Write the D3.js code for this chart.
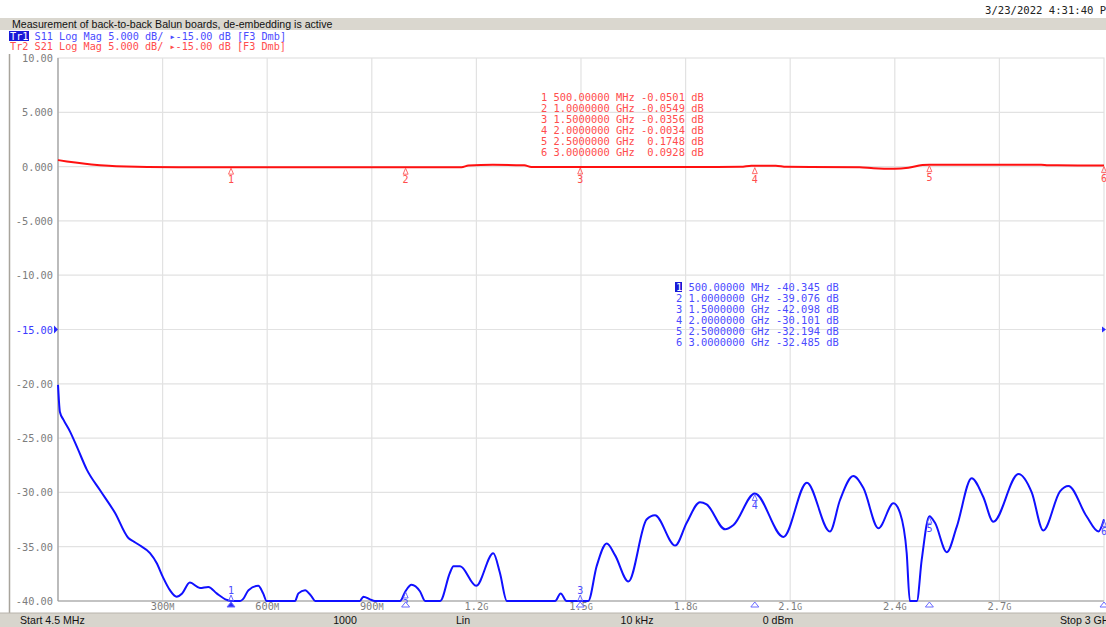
<!DOCTYPE html>
<html>
<head>
<meta charset="utf-8">
<script src="https://cdn.jsdelivr.net/npm/d3@7"></script>
<style>
  html, body { margin: 0; padding: 0; background: #fff; }
  svg { display: block; }
  text { white-space: pre; }
</style>
</head>
<body>
<div id="chart"></div>
<script>
// S11 trace (frequency in MHz, value in dB)
const s11Freq = [4.5, 7, 10, 20, 39, 60, 87, 125, 168, 206, 220, 235, 268, 287, 305, 325, 344, 360, 382, 411, 435, 459, 488, 500, 526, 535, 550, 578, 592, 602, 640, 683, 693, 712, 731, 741, 784, 826, 869, 879, 898, 912, 955, 984, 1000, 1017, 1041, 1056, 1076, 1099, 1127, 1137, 1156, 1202, 1251, 1270, 1290, 1328, 1385, 1428, 1444, 1461, 1500, 1523, 1547, 1576, 1600, 1638, 1690, 1714, 1772, 1805, 1843, 1862, 1915, 1939, 2000, 2082, 2149, 2215, 2244, 2282, 2311, 2354, 2397, 2416, 2435, 2444, 2453, 2464, 2478, 2500, 2516, 2550, 2578, 2621, 2654, 2683, 2755, 2793, 2826, 2874, 2898, 2950, 2984, 3000];
const s11Db = [-20.1, -21.5, -22.6, -23.3, -24.4, -25.9, -27.9, -29.8, -31.9, -34.2, -34.5, -34.8, -35.6, -36.5, -37.8, -39.0, -39.6, -39.3, -38.3, -38.8, -38.7, -39.3, -39.9, -40.345, -40.5, -39.8, -39.0, -38.6, -39.3, -40.2, -41, -40.5, -39.3, -39.0, -39.6, -40.2, -41.5, -42, -40.5, -39.6, -39.85, -40.3, -41, -40.3, -39.076, -38.5, -39.1, -40.2, -41, -40.3, -37.4, -36.8, -36.8, -38.6, -35.6, -37.4, -40.2, -41.5, -41.5, -40.3, -39.3, -40.2, -42.098, -40.3, -36.8, -34.7, -35.8, -38.2, -32.5, -32.1, -34.9, -32.8, -30.9, -31.1, -33.4, -33.0, -30.101, -34.1, -29.1, -33.6, -30.7, -28.5, -29.6, -33.3, -31.0, -31.9, -35.6, -40.5, -43, -40.5, -36.2, -32.194, -32.8, -35.5, -33.2, -28.7, -30.4, -32.7, -28.3, -30.0, -33.5, -29.9, -29.4, -32.2, -33.6, -32.485];

// S21 trace
const s21Freq = [4.5, 30, 60, 100, 150, 200, 260, 350, 500, 800, 1000, 1160, 1180, 1250, 1340, 1360, 1500, 1700, 1960, 1990, 2060, 2090, 2300, 2340, 2400, 2440, 2480, 2500, 2700, 2820, 2840, 2990, 3000];
const s21Db = [0.6, 0.48, 0.35, 0.2, 0.07, 0.0, -0.04, -0.05, -0.0501, -0.05, -0.0549, -0.05, 0.1, 0.16, 0.12, -0.03, -0.0356, -0.04, -0.02, 0.08, 0.08, -0.02, -0.05, -0.15, -0.2, -0.1, 0.15, 0.1748, 0.18, 0.17, 0.12, 0.1, 0.0928];

// markers
const markerFreq = [500, 1000, 1500, 2000, 2500, 3000];
const markerFreqText = ["500.00000 MHz", "1.0000000 GHz", "1.5000000 GHz", "2.0000000 GHz", "2.5000000 GHz", "3.0000000 GHz"];
const s21Marker = [-0.0501, -0.0549, -0.0356, -0.0034, 0.1748, 0.0928];
const s11Marker = [-40.345, -39.076, -42.098, -30.101, -32.194, -32.485];

// axes
const yTicks = [10, 5, 0, -5, -10, -15, -20, -25, -30, -35, -40];
const yTickLabels = ["10.00", "5.000", "0.000", "-5.000", "-10.00", "-15.00", "-20.00", "-25.00", "-30.00", "-35.00", "-40.00"];
const xTickNum = ["300", "600", "900", "1.2", "1.5", "1.8", "2.1", "2.4", "2.7"];
const xTickUnit = ["M", "M", "M", "G", "G", "G", "G", "G", "G"];
const startMHz = 4.5, stopMHz = 3000, refLevel = -15;

const statusTexts = ["Start 4.5 MHz", "1000", "Lin", "10 kHz", "0 dBm", "Stop 3 GHz"];

const W = 1106, H = 627;
const plot = { left: 58, right: 1104, top: 58, bottom: 601 };
const mono = "'DejaVu Sans Mono', 'Liberation Mono', monospace";
const sans = "'Liberation Sans', Arial, sans-serif";
const BLUE = "#1010ff", RED = "#ff1010";
const BLUE_TXT = "#4b4bff", RED_TXT = "#ff4d4d";

const svg = d3.select("#chart").append("svg")
  .attr("width", W).attr("height", H)
  .attr("viewBox", `0 0 ${W} ${H}`);

const x = d3.scaleLinear().domain([startMHz, stopMHz]).range([plot.left, plot.right]);
const y = d3.scaleLinear().domain([-40, 10]).range([plot.bottom, plot.top]).clamp(true);

// top window bar
svg.append("rect").attr("x", 0).attr("y", 18).attr("width", W).attr("height", 12).attr("fill", "#dad7cf");
svg.append("text").attr("x", 12).attr("y", 27.5)
  .attr("font-family", sans).attr("font-size", 10.6).attr("fill", "#111")
  .text("Measurement of back-to-back Balun boards, de-embedding is active");
svg.append("text").attr("x", 985).attr("y", 14)
  .attr("font-family", mono).attr("font-size", 10.6).attr("fill", "#222")
  .text("3/23/2022 4:31:40 PM");

// left frame line
svg.append("line").attr("x1", 9.5).attr("x2", 9.5).attr("y1", 54).attr("y2", 613)
  .attr("stroke", "#a8a49c").attr("stroke-width", 1.5);

// trace header lines
svg.append("rect").attr("x", 9).attr("y", 31).attr("width", 20).attr("height", 10).attr("fill", "#1a1ad8");
const tr1 = svg.append("text").attr("x", 10).attr("y", 39.5)
  .attr("font-family", mono).attr("font-size", 10.2);
tr1.append("tspan").attr("fill", "#fff").text("Tr1");
tr1.append("tspan").attr("fill", BLUE_TXT).text(" S11 Log Mag 5.000 dB/ \u25B8-15.00 dB [F3 Dmb]");
svg.append("text").attr("x", 10).attr("y", 49.5)
  .attr("font-family", mono).attr("font-size", 10.2).attr("fill", RED_TXT)
  .text("Tr2 S21 Log Mag 5.000 dB/ \u25B8-15.00 dB [F3 Dmb]");

// grid
const divs = d3.range(0, 11).map(i => startMHz + i * (stopMHz - startMHz) / 10);
svg.append("g").selectAll("line").data(divs.slice(1, 10)).join("line")
  .attr("x1", d => x(d)).attr("x2", d => x(d))
  .attr("y1", plot.top).attr("y2", plot.bottom)
  .attr("stroke", "#e2e2e2").attr("stroke-width", 1.2);
svg.append("g").selectAll("line").data(yTicks.slice(1, 10)).join("line")
  .attr("x1", plot.left).attr("x2", plot.right)
  .attr("y1", d => y(d)).attr("y2", d => y(d))
  .attr("stroke", "#e2e2e2").attr("stroke-width", 1.2);
svg.append("rect")
  .attr("x", plot.left).attr("y", plot.top)
  .attr("width", plot.right - plot.left).attr("height", plot.bottom - plot.top)
  .attr("fill", "none").attr("stroke", "#e2e2e2").attr("stroke-width", 1.2);
svg.append("line").attr("x1", plot.left).attr("x2", plot.left).attr("y1", plot.top).attr("y2", plot.bottom)
  .attr("stroke", "#9a9a9a").attr("stroke-width", 1.2);
svg.append("line").attr("x1", plot.left).attr("x2", plot.right).attr("y1", plot.bottom).attr("y2", plot.bottom)
  .attr("stroke", "#9a9a9a").attr("stroke-width", 1.2);

// y labels
svg.append("g").selectAll("text").data(yTicks).join("text")
  .attr("x", 53).attr("y", d => y(d) + 4)
  .attr("text-anchor", "end")
  .attr("font-family", mono).attr("font-size", 10.3)
  .attr("fill", d => d === refLevel ? "#3a3aff" : "#7d7d7d")
  .text((d, i) => yTickLabels[i]);

// reference level arrows
svg.append("path")
  .attr("d", `M${plot.left - 4},${y(refLevel) - 4} L${plot.left},${y(refLevel)} L${plot.left - 4},${y(refLevel) + 4} Z`)
  .attr("fill", "#2a2aff");
svg.append("path")
  .attr("d", `M${plot.right - 2},${y(refLevel) - 3} L${plot.right + 2},${y(refLevel)} L${plot.right - 2},${y(refLevel) + 3} Z`)
  .attr("fill", "#2a2aff");

// x labels
const xl = svg.append("g").selectAll("text").data(divs.slice(1, 10)).join("text")
  .attr("x", d => x(d)).attr("y", 610)
  .attr("text-anchor", "middle")
  .attr("font-family", mono).attr("font-size", 10.3).attr("fill", "#7d7d7d");
xl.append("tspan").text((d, i) => xTickNum[i]);
xl.append("tspan").attr("font-size", 8.5).text((d, i) => xTickUnit[i]);

// traces
const line = d3.line().x(d => x(d[0])).y(d => y(d[1])).curve(d3.curveMonotoneX);
svg.append("path").datum(s21Freq.map((f, i) => [f, s21Db[i]]))
  .attr("d", line).attr("fill", "none").attr("stroke", RED).attr("stroke-width", 2);
svg.append("path").datum(s11Freq.map((f, i) => [f, s11Db[i]]))
  .attr("d", line).attr("fill", "none").attr("stroke", BLUE).attr("stroke-width", 2);

// marker symbols
function markerGlyph(g, mx, my, color, filled) {
  g.append("path")
    .attr("d", `M${mx},${my} L${mx - 2.5},${my + 6} L${mx + 2.5},${my + 6} Z`)
    .attr("fill", filled ? color : "none").attr("stroke", color).attr("stroke-width", 0.9);
}
const mg = svg.append("g");
markerFreq.forEach((f, i) => {
  const mx = x(f), my = y(s21Marker[i]);
  markerGlyph(mg, mx, my + 1, "#ff5a5a", false);
  mg.append("text").attr("x", mx).attr("y", my + 16).attr("text-anchor", "middle")
    .attr("font-family", mono).attr("font-size", 10).attr("fill", RED_TXT).text(i + 1);
});
markerFreq.forEach((f, i) => {
  const mx = x(f), v = s11Marker[i];
  if (v < -40) {
    mg.append("text").attr("x", mx).attr("y", plot.bottom - 7).attr("text-anchor", "middle")
      .attr("font-family", mono).attr("font-size", 10).attr("fill", BLUE_TXT).text(i + 1);
    markerGlyph(mg, mx, plot.bottom - 6, "#5a5aff", false);
  } else {
    const my = y(v);
    markerGlyph(mg, mx, my + 1, "#5a5aff", false);
    mg.append("text").attr("x", mx).attr("y", my + 16).attr("text-anchor", "middle")
      .attr("font-family", mono).attr("font-size", 10).attr("fill", BLUE_TXT).text(i + 1);
  }
  // stimulus triangle under the axis
  mg.append("path")
    .attr("d", `M${mx},${plot.bottom + 1} L${mx - 4},${plot.bottom + 6} L${mx + 4},${plot.bottom + 6} Z`)
    .attr("fill", i === 0 ? "#2a2aff" : "#fff").attr("stroke", "#6a6aff").attr("stroke-width", 1);
});

// marker tables
const fmtS21 = v => (v < 0 ? "" : " ") + v.toFixed(4);
const fmtS11 = v => v.toFixed(3);
svg.append("g").selectAll("text").data(markerFreq).join("text")
  .attr("x", 541).attr("y", (d, i) => 101 + i * 10.9)
  .attr("font-family", mono).attr("font-size", 10.4).attr("fill", RED_TXT)
  .text((d, i) => `${i + 1} ${markerFreqText[i]} ${fmtS21(s21Marker[i])} dB`);

svg.append("rect").attr("x", 675).attr("y", 282).attr("width", 7).attr("height", 10).attr("fill", "#1a1ad8");
const bt = svg.append("g").selectAll("text").data(markerFreq).join("text")
  .attr("x", 676).attr("y", (d, i) => 291 + i * 10.9)
  .attr("font-family", mono).attr("font-size", 10.4).attr("fill", BLUE_TXT);
bt.append("tspan").attr("fill", (d, i) => i === 0 ? "#fff" : BLUE_TXT).text((d, i) => i + 1);
bt.append("tspan").text((d, i) => ` ${markerFreqText[i]} ${fmtS11(s11Marker[i])} dB`);

// status bar
svg.append("rect").attr("x", 0).attr("y", 613).attr("width", W).attr("height", 14).attr("fill", "#d8d5cd");
svg.append("line").attr("x1", 0).attr("x2", W).attr("y1", 613).attr("y2", 613).attr("stroke", "#b8b4ac");
const statusX = [20, 345, 463, 637, 778, 1060];
const statusAnchor = ["start", "middle", "middle", "middle", "middle", "start"];
svg.append("g").selectAll("text").data(statusTexts).join("text")
  .attr("x", (d, i) => statusX[i]).attr("y", 623.5)
  .attr("text-anchor", (d, i) => statusAnchor[i])
  .attr("font-family", sans).attr("font-size", 10.6).attr("fill", "#111")
  .text(d => d);
</script>
</body>
</html>
